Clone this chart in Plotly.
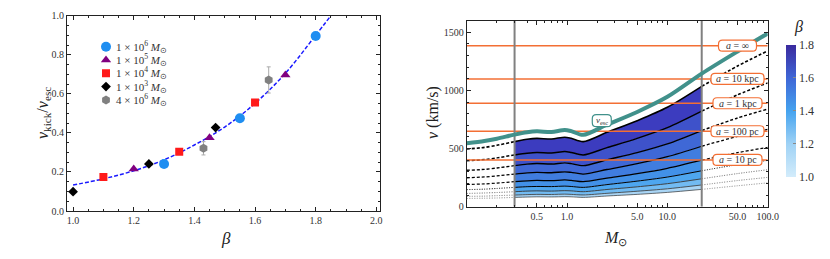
import math
import plotly.graph_objects as go

# ---------------- data: left panel ----------------
beta_1e3 = [1.0, 1.25, 1.47]
kick_1e3 = [0.099, 0.241, 0.427]
beta_1e4 = [1.1, 1.35, 1.6]
kick_1e4 = [0.174, 0.304, 0.555]
beta_1e5 = [1.2, 1.45, 1.7]
kick_1e5 = [0.215, 0.375, 0.696]
beta_1e6 = [1.3, 1.55, 1.8]
kick_1e6 = [0.241, 0.475, 0.896]
beta_4e6 = [1.43, 1.645]
kick_4e6 = [0.321, 0.671]
err_4e6 = [0.034, 0.067]

fit_beta = [1.0, 1.1, 1.2, 1.3, 1.4, 1.5, 1.6, 1.7, 1.8, 1.85]
fit_kick = [0.133, 0.165, 0.206, 0.262, 0.338, 0.43, 0.551, 0.705, 0.90, 1.0]

# ---------------- data: right panel ----------------
mass = [0.1, 0.15, 0.2, 0.3, 0.4, 0.5, 0.7, 0.95, 1.1, 1.45, 2.5, 5, 10, 22, 50, 100]
v_esc = [545, 565, 585, 620, 640, 648, 643, 660, 650, 618, 705, 815, 945, 1145, 1335, 1490]
betas = [1.0, 1.1, 1.2, 1.3, 1.4, 1.5, 1.6, 1.7, 1.8]
v_kick = {
    1.8: [496, 510, 528, 560, 580, 588, 582, 598, 588, 560, 640, 740, 855, 1035, 1210, 1340],
    1.7: [395, 405, 420, 445, 460, 467, 462, 475, 467, 445, 508, 588, 680, 822, 962, 1065],
    1.6: [313, 321, 333, 353, 366, 371, 367, 377, 371, 353, 403, 465, 540, 655, 763, 840],
    1.5: [249, 256, 265, 281, 291, 295, 292, 300, 295, 281, 320, 370, 430, 520, 605, 665],
    1.4: [191, 196, 203, 215, 223, 226, 224, 230, 226, 215, 246, 284, 330, 400, 465, 510],
    1.3: [147, 151, 157, 166, 172, 174, 173, 177, 174, 166, 190, 220, 255, 309, 362, 398],
    1.2: [114, 118, 122, 129, 134, 136, 134, 138, 136, 129, 148, 171, 198, 240, 285, 318],
    1.1: [89, 91, 95, 100, 104, 106, 105, 108, 106, 101, 115, 133, 154, 187, 225, 252],
    1.0: [71, 73, 75, 80, 83, 85, 84, 86, 85, 80, 92, 106, 123, 149, 180, 205],
}
mass_lo, mass_hi = 0.3, 22  # mass window (grey vertical lines)
sep_values = [1385, 1099, 890, 649, 402]
sep_labels = ["<i>a</i> = ∞", "<i>a</i> = 10 kpc", "<i>a</i> = 1 kpc", "<i>a</i> = 100 pc", "<i>a</i> = 10 pc"]
legend_labels = [
    "1 × 10<sup>6</sup> <i>M</i><sub>⊙</sub>",
    "1 × 10<sup>5</sup> <i>M</i><sub>⊙</sub>",
    "1 × 10<sup>4</sup> <i>M</i><sub>⊙</sub>",
    "1 × 10<sup>3</sup> <i>M</i><sub>⊙</sub>",
    "4 × 10<sup>6</sup> <i>M</i><sub>⊙</sub>",
]

# ---------------- style ----------------
W, H = 830, 259
FONT = "Liberation Serif"
LX = [67 / W, 380 / W]
LY = [1 - 211 / H, 1 - 15.7 / H]
RX = [466.7 / W, 767.7 / W]
RY = [1 - 206.7 / H, 1 - 20.7 / H]
L_XR = [0.98, 2.012]
TEAL = "#41918b"
ORANGE = "#f36f34"
band_colors = ["#a9d5f5", "#72bbf2", "#4ea6ef", "#4291e8", "#407ddf", "#3f68d6", "#3e52ca", "#3c3cbf"]
cscale = [[0, "#d3ecfb"], [0.25, "#9fd2f5"], [0.5, "#45a3ef"], [0.75, "#3f66d6"], [1, "#3a2a9e"]]

fig = go.Figure()

# ---------- left panel ----------
fig.add_trace(go.Scatter(x=fit_beta, y=fit_kick, mode="lines",
                         line=dict(color="#1a1aff", width=1.5, dash="4px,2px", shape="spline"),
                         xaxis="x", yaxis="y", showlegend=False))
series = [
    (beta_1e6, kick_1e6, "circle", "#1f8ef1", 10),
    (beta_1e5, kick_1e5, "triangle-up", "#800080", 9),
    (beta_1e4, kick_1e4, "square", "#ff1a1a", 8),
    (beta_1e3, kick_1e3, "diamond", "#000000", 7.5),
    (beta_4e6, kick_4e6, "hexagon", "#808080", 9),
]
for i, (bx, by, sym, col, sz) in enumerate(series):
    kw = {}
    if sym == "hexagon":
        kw["error_y"] = dict(type="data", array=err_4e6, color="#aaaaaa", thickness=1, width=2)
    fig.add_trace(go.Scatter(x=bx, y=by, mode="markers",
                             marker=dict(symbol=sym, color=col, size=sz, line=dict(width=0)),
                             xaxis="x", yaxis="y", showlegend=False, **kw))


# manual legend (positions in pixels -> left axes)
def lpx2x(px):
    return L_XR[0] + (px - 67) / 313 * (L_XR[1] - L_XR[0])


def lpy2y(py):
    return (211 - py) / 195.3


LEG_PX, LEG_TX, LEG_PY0, LEG_DY = 106, 114, 46.7, 13.3
for i, (bx, by, sym, col, sz) in enumerate(series):
    fig.add_trace(go.Scatter(x=[lpx2x(LEG_PX)], y=[lpy2y(LEG_PY0 + i * LEG_DY)], mode="markers",
                             marker=dict(symbol=sym, color=col, size=sz, line=dict(width=0)),
                             xaxis="x", yaxis="y", showlegend=False))
    fig.add_annotation(x=lpx2x(LEG_TX), y=lpy2y(LEG_PY0 + i * LEG_DY), xref="x", yref="y",
                       text=legend_labels[i], showarrow=False, xanchor="left", yanchor="middle",
                       font=dict(family=FONT, size=11, color="#333"))

# ---------- right panel ----------
idx_in = [i for i, m in enumerate(mass) if mass_lo <= m <= mass_hi]
idx_lo = [i for i, m in enumerate(mass) if m <= mass_lo]
idx_hi = [i for i, m in enumerate(mass) if m >= mass_hi]
widths = {1.8: 1.6, 1.7: 1.5, 1.6: 1.4, 1.5: 1.3, 1.4: 1.2, 1.3: 1.0, 1.2: 0.9, 1.1: 0.8, 1.0: 0.7}
for k, b in enumerate(betas):
    xs = [mass[i] for i in idx_in]
    ys = [v_kick[b][i] for i in idx_in]
    lc = "#000000" if b >= 1.3 else "#333333"
    fig.add_trace(go.Scatter(x=xs, y=ys, mode="lines", xaxis="x2", yaxis="y2", showlegend=False,
                             line=dict(color=lc, width=widths[b], shape="spline", smoothing=0.8),
                             fill=None if k == 0 else "tonexty",
                             fillcolor=None if k == 0 else band_colors[k - 1]))
for b in betas:
    dash = "3px,2px" if b >= 1.4 else "1px,1.5px"
    col = "#000000" if b >= 1.3 else "#555555"
    for idx in (idx_lo, idx_hi):
        fig.add_trace(go.Scatter(x=[mass[i] for i in idx], y=[v_kick[b][i] for i in idx], mode="lines",
                                 xaxis="x2", yaxis="y2", showlegend=False,
                                 line=dict(color=col, width=widths[b], dash=dash, shape="spline",
                                           smoothing=0.8)))
# separations
for v in sep_values:
    fig.add_trace(go.Scatter(x=[0.1, 100], y=[v, v], mode="lines", line=dict(color=ORANGE, width=1.6),
                             xaxis="x2", yaxis="y2", showlegend=False))
# vertical window lines
for m in (mass_lo, mass_hi):
    fig.add_trace(go.Scatter(x=[m, m], y=[0, 1600], mode="lines", line=dict(color="#808080", width=2),
                             xaxis="x2", yaxis="y2", showlegend=False))
# escape velocity
fig.add_trace(go.Scatter(x=mass, y=v_esc, mode="lines",
                         line=dict(color=TEAL, width=4, shape="spline", smoothing=0.8),
                         xaxis="x2", yaxis="y2", showlegend=False))
# colorbar carrier
cbar = dict(x=785.7 / W, xanchor="left", y=1 - 110.5 / H, yanchor="middle",
            len=(176.7 - 44.3) / H, lenmode="fraction", thickness=10, xpad=0, ypad=0,
            outlinewidth=0, tickvals=[1.0, 1.2, 1.4, 1.6, 1.8],
            ticktext=["1.0", "1.2", "1.4", "1.6", "1.8"],
            ticks="inside", ticklen=3, tickcolor="#888",
            tickfont=dict(family=FONT, size=12, color="#333"))
fig.add_trace(go.Scatter(x=[1, 1], y=[-500, -500], mode="markers", xaxis="x2", yaxis="y2", showlegend=False,
                         marker=dict(color=[1.0, 1.8], cmin=1.0, cmax=1.8, colorscale=cscale,
                                     showscale=True, size=1, colorbar=cbar)))


# rounded label boxes
def rpaper_x(m):
    return RX[0] + (math.log10(m) + 1) / 3 * (RX[1] - RX[0])


def rrect(w, h, r):
    a, b = w / 2, h / 2
    return (f"M {-a + r},{-b} L {a - r},{-b} Q {a},{-b} {a},{-b + r} L {a},{b - r} Q {a},{b} {a - r},{b} "
            f"L {-a + r},{b} Q {-a},{b} {-a},{b - r} L {-a},{-b + r} Q {-a},{-b} {-a + r},{-b} Z")


LABEL_M = 50
box_w = [38, 53, 49, 53, 49]
shapes = []
for v, lab, w in zip(sep_values, sep_labels, box_w):
    shapes.append(dict(type="path", xref="paper", yref="y2", xsizemode="pixel", ysizemode="pixel",
                       xanchor=rpaper_x(LABEL_M), yanchor=v, path=rrect(w, 11, 4),
                       fillcolor="white", line=dict(color=ORANGE, width=1.2), layer="above"))
    fig.add_annotation(x=math.log10(LABEL_M), y=v, xref="x2", yref="y2", text=lab, showarrow=False,
                       xanchor="center", yanchor="middle",
                       font=dict(family=FONT, size=10, color="#333"))
VESC_M, VESC_V = 2.22, 740
shapes.append(dict(type="path", xref="paper", yref="y2", xsizemode="pixel", ysizemode="pixel",
                   xanchor=rpaper_x(VESC_M), yanchor=VESC_V, path=rrect(19, 12, 4),
                   fillcolor="white", line=dict(color=TEAL, width=1.2), layer="above"))
fig.add_annotation(x=math.log10(VESC_M), y=VESC_V, xref="x2", yref="y2", text="<i>v</i><sub>esc</sub>",
                   showarrow=False, xanchor="center", yanchor="middle",
                   font=dict(family=FONT, size=9, color="#333"))


# axis titles
def title(px, py, text, size=16, angle=0):
    fig.add_annotation(x=px / W, y=1 - py / H, xref="paper", yref="paper", text=text, showarrow=False,
                       xanchor="center", yanchor="middle",
                       textangle=angle, font=dict(family=FONT, size=size, color="#222"))


title(43, 113, "<i>v</i><sub>kick</sub>/<i>v</i><sub>esc</sub>", 16, -90)
title(226, 238, "<i>β</i>", 17)
title(433, 113, "<i>v</i> (km/s)", 16, -90)
title(615, 238, "<i>M</i><sub>⊙</sub>", 16)
title(798, 27, "<i>β</i>", 16)

axis_common = dict(showline=True, linecolor="#222", linewidth=1, mirror="allticks", ticks="inside",
                   ticklen=4, tickwidth=0.8, tickcolor="#222", showgrid=False, zeroline=False,
                   automargin=False, tickfont=dict(family=FONT, size=10, color="#333"))
fig.update_layout(
    template="none",
    width=W, height=H, margin=dict(l=0, r=0, t=0, b=0, pad=0), paper_bgcolor="white", plot_bgcolor="white",
    showlegend=False, shapes=shapes,
    xaxis=dict(domain=LX, range=L_XR, anchor="y", tickvals=[1.0, 1.2, 1.4, 1.6, 1.8, 2.0],
               ticktext=["1.0", "1.2", "1.4", "1.6", "1.8", "2.0"],
               minor=dict(ticks="inside", ticklen=2, dtick=0.05, tickcolor="#222"), **axis_common),
    yaxis=dict(domain=LY, range=[0, 1], anchor="x", tickvals=[0, 0.2, 0.4, 0.6, 0.8, 1.0],
               ticktext=["0.0", "0.2", "0.4", "0.6", "0.8", "1.0"],
               minor=dict(ticks="inside", ticklen=2, dtick=0.05, tickcolor="#222"), **axis_common),
    xaxis2=dict(domain=RX, type="log", range=[-1, 2], anchor="y2", tickvals=[0.5, 1, 5, 10, 50, 100],
                ticktext=["0.5", "1.0", "5.0", "10.0", "50.0", "100.0"],
                minor=dict(ticks="inside", ticklen=2, tickcolor="#222",
                           tickvals=[0.2, 0.3, 0.4, 0.6, 0.7, 0.8, 0.9, 2, 3, 4, 6, 7, 8, 9,
                                     20, 30, 40, 60, 70, 80, 90]),
                **axis_common),
    yaxis2=dict(domain=RY, range=[0, 1600], anchor="x2", tickvals=[0, 500, 1000, 1500],
                minor=dict(ticks="inside", ticklen=2, dtick=100, tickcolor="#222"), **axis_common),
)
fig.write_html("out.html", config={"displayModeBar": False},
               post_script="document.body.style.margin='0px';document.body.style.padding='0px';")
